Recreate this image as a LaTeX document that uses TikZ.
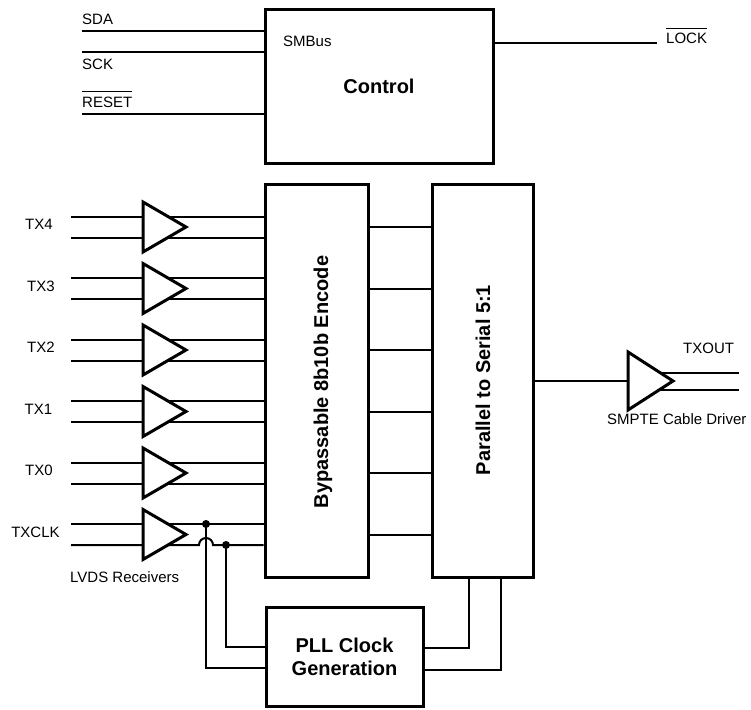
\documentclass[tikz,border=0pt]{standalone}
\usepackage{fontspec}
\setmainfont{Liberation Sans}
\begin{document}
\begin{tikzpicture}[x=1pt,y=-1pt,
  blk/.style={draw, line width=3pt, inner sep=0pt},
  wire/.style={line width=2pt},
  amp/.style={draw, line width=3pt, fill=white, line join=miter},
  lbl/.style={font=\fontsize{15}{18}\selectfont, inner sep=0pt},
  big/.style={font=\fontsize{20}{23}\selectfont\bfseries, align=center, inner sep=0pt},
  jdot/.style={circle, fill, inner sep=0pt, minimum size=8pt},
  bar/.style={line width=1.2pt}]
\useasboundingbox (0,0) rectangle (751,709);

% blocks
\node[blk, minimum width=228pt, minimum height=153pt, big] (ctrl) at (379,86.5) {Control};
\node[blk, minimum width=103pt, minimum height=393pt] (enc) at (316.5,380.5) {};
\node[blk, minimum width=101pt, minimum height=393pt] (par) at (482.5,380.5) {};
\node[blk, minimum width=157pt, minimum height=99pt, big] (pll) at (344.5,657) {PLL Clock\\Generation};
\node[big, rotate=90] (enctxt) at (323,382) {Bypassable 8b10b Encode};
\node[big, rotate=90] (partxt) at (483,380) {Parallel to Serial 5:1};

% control wires
\coordinate (sda) at (82,31);
\coordinate (sck) at (82,52);
\coordinate (rst) at (82,114);
\coordinate (lck) at (657,43);
\draw[wire] (sda) -- (sda -| ctrl.west);
\draw[wire] (sck) -- (sck -| ctrl.west);
\draw[wire] (rst) -- (rst -| ctrl.west);
\draw[wire] (lck -| ctrl.east) -- (lck);
\node[lbl, anchor=base west] (lsda) at (82,25) {SDA};
\node[lbl, anchor=base west] (lsck) at (82,70) {SCK};
\node[lbl, anchor=base west] (lrst) at (82,107) {RESET};
\node[lbl, anchor=base west] (lsmb) at (283,47) {SMBus};
\node[lbl, anchor=base west] (llck) at (666,44) {LOCK};
\draw[bar] ([yshift=5pt]lrst.north west) -- ([yshift=5pt]lrst.north east);
\draw[bar] ([yshift=4.5pt]llck.north west) -- ([yshift=4.5pt]llck.north east);

% receivers
\foreach \n/\y/\lx in {4/227/39, 3/288.5/41, 2/350/41, 1/411.5/38.5, 0/473/39}{
  \coordinate (a\n) at (71,\y-10.5);
  \coordinate (b\n) at (71,\y+10.5);
  \coordinate (r\n) at (143,\y);
  \draw[wire] (a\n) -- (a\n -| enc.west);
  \draw[wire] (b\n) -- (b\n -| enc.west);
  \draw[wire] (enc.east |- r\n) -- (par.west |- r\n);
  \draw[amp] (143,\y-25) -- (186,\y) -- (143,\y+25) -- cycle;
  \node[lbl, anchor=base] (lt\n) at (\lx,\y+2.5) {TX\n};
}
% TXCLK
\coordinate (ac) at (71,524);
\coordinate (bc) at (71,545);
\coordinate (rc) at (143,534.5);
\draw[wire] (ac) -- (ac -| enc.west);
\draw[wire] (bc) -- (199,545) arc(180:360:7) -- (bc -| enc.west);
\draw[wire] (enc.east |- rc) -- (par.west |- rc);
\draw[amp] (143,509.5) -- (186,534.5) -- (143,559.5) -- cycle;
\node[lbl, anchor=base] (ltc) at (35.5,537) {TXCLK};
\node[lbl, anchor=base west] (llvds) at (70,582) {LVDS Receivers};

% clock junctions to PLL
\node[jdot] (j1) at (206,524) {};
\node[jdot] (j2) at (226,545) {};
\coordinate (k1) at (0,668);
\coordinate (k2) at (0,647);
\draw[wire] (j1.center) |- (pll.west |- k1);
\draw[wire] (j2.center) |- (pll.west |- k2);

% PLL to serializer
\coordinate (p1) at (469,648);
\coordinate (p2) at (501,670);
\draw[wire] (pll.east |- p1) -- (p1) -- (p1 |- par.south);
\draw[wire] (pll.east |- p2) -- (p2) -- (p2 |- par.south);

% cable driver
\coordinate (drv) at (628,381);
\coordinate (o1) at (739,372.5);
\coordinate (o2) at (739,389.5);
\draw[wire] (par.east |- drv) -- (drv);
\draw[wire] (640,372.5) -- (o1);
\draw[wire] (640,389.5) -- (o2);
\draw[amp] (628,352) -- (673,381) -- (628,410) -- cycle;
\node[lbl, anchor=base west] (ltxo) at (683,353) {TXOUT};
\node[lbl, anchor=base west] (lsmp) at (607,424) {SMPTE Cable Driver};
\end{tikzpicture}
\end{document}
